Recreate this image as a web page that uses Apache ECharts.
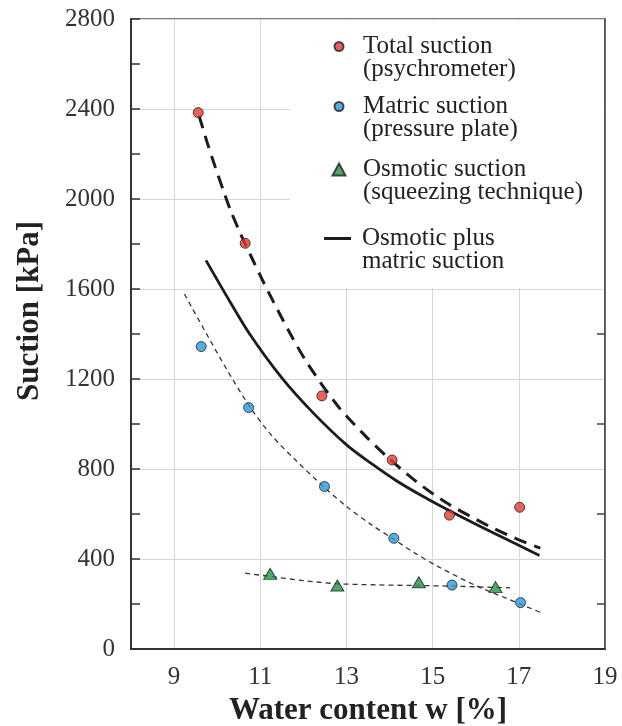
<!DOCTYPE html>
<html>
<head>
<meta charset="utf-8">
<script src="https://cdn.jsdelivr.net/npm/echarts@6/dist/echarts.min.js"></script>
<style>
  html, body { margin: 0; padding: 0; background: #ffffff; }
  #chart { width: 622px; height: 726px; }
</style>
</head>
<body>
<div id="chart"></div>
<script>
// Suction measurements against gravimetric water content
const xTickValues = [9, 11, 13, 15, 17, 19];
const rightTickValues = [200, 600, 1000, 1400];

// Total suction (psychrometer)
const totalW = [9.56, 10.65, 12.43, 14.06, 15.39, 17.02];
const totalS = [2384, 1803, 1125, 840, 595, 630];

// Matric suction (pressure plate)
const matricW = [9.63, 10.73, 12.49, 14.10, 15.45, 17.04];
const matricS = [1344, 1073, 722, 492, 284, 206];

// Osmotic suction (squeezing technique)
const osmoticW = [11.23, 12.79, 14.68, 16.46];
const osmoticS = [334, 282, 297, 275];

// Fitted curve through total suction
const totalFitW = [9.58, 9.77, 9.95, 10.14, 10.32, 10.55, 10.8, 11.05, 11.3, 11.7, 12.1, 12.8, 13.45, 13.9, 14.55, 15.3, 16.25, 17.0, 17.5];
const totalFitS = [2370, 2250, 2145, 2040, 1945, 1842, 1740, 1640, 1545, 1400, 1268, 1080, 945, 862, 755, 652, 552, 485, 448];

// Osmotic plus matric suction
const sumFitW = [9.74, 10.2, 10.75, 11.5, 12.25, 13.01, 13.55, 14.15, 14.76, 15.38, 16.38, 17.48];
const sumFitS = [1727, 1575, 1401, 1205, 1045, 906, 828, 749, 680, 616, 519, 416];

// Fitted curve through matric suction
const matricFitW = [9.24, 9.39, 9.79, 10.23, 10.77, 11.25, 11.8, 12.49, 13.01, 13.55, 14.08, 14.6, 15.14, 16.0, 16.78, 17.56];
const matricFitS = [1578, 1525, 1388, 1240, 1073, 952, 843, 718, 632, 556, 490, 425, 365, 282, 220, 158];

// Fitted curve through osmotic suction
const osmoticFitW = [10.65, 11.25, 12.0, 12.8, 13.7, 14.7, 15.5, 16.8];
const osmoticFitS = [337, 322, 304, 290, 285, 282, 279, 272];

const NAME_TOTAL = 'Total suction\n(psychrometer)';
const NAME_MATRIC = 'Matric suction\n(pressure plate)';
const NAME_OSMOTIC = 'Osmotic suction\n(squeezing technique)';
const NAME_SUM = 'Osmotic plus\nmatric suction';

const zip = (xs, ys) => xs.map((x, i) => [x, ys[i]]);

const SERIF = '"Liberation Serif", "DejaVu Serif", serif';

// Two-line legend entry: the icon sits level with the first line,
// the text block starts a fixed distance right of the icon.
function legendFor(name, top, left, icon, itemWidth, itemHeight, indent) {
  const lineStyle = { fontFamily: SERIF, fontSize: 25, lineHeight: 23, color: '#222' };
  return {
    data: [{ name: name, icon: icon }],
    left: left,
    top: top,
    padding: 0,
    itemWidth: itemWidth,
    itemHeight: itemHeight,
    selectedMode: false,
    formatter: function (n) {
      const lines = n.split('\n').map(function (l) { return '{s| }{t|' + l + '}'; });
      return ['{t| }'].concat(lines).join('\n');
    },
    textStyle: {
      fontFamily: SERIF,
      fontSize: 25,
      lineHeight: 23,
      color: '#222',
      rich: {
        t: lineStyle,
        s: { width: indent, fontSize: 25, lineHeight: 23 }
      }
    }
  };
}

const chart = echarts.init(document.getElementById('chart'), null, { renderer: 'canvas' });

chart.setOption({
  animation: false,
  backgroundColor: '#ffffff',
  grid: {
    left: 131,
    right: 17,
    top: 19,
    bottom: 77,
    outerBoundsMode: 'none',
    containLabel: false,
    show: true,
    borderColor: '#555',
    borderWidth: 1.5,
    backgroundColor: 'transparent'
  },
  legend: [
    legendFor(NAME_TOTAL, 11, 333.5, 'circle', 9, 9, 14.5),
    legendFor(NAME_MATRIC, 71, 333.5, 'circle', 9, 9, 14.5),
    legendFor(NAME_OSMOTIC, 134, 331.5, 'triangle', 13, 12, 12.5),
    legendFor(NAME_SUM, 203, 324, 'rect', 27, 3, 6)
  ],
  xAxis: {
    type: 'value',
    min: 8,
    max: 19,
    name: 'Water content w [%]',
    nameLocation: 'middle',
    nameGap: 46,
    nameTextStyle: { fontFamily: SERIF, fontSize: 31, fontWeight: 'bold', color: '#222' },
    axisLine: { lineStyle: { color: '#333', width: 2 } },
    axisTick: { show: false, customValues: xTickValues },
    axisLabel: { customValues: xTickValues, fontFamily: SERIF, fontSize: 25, color: '#333', margin: 16 },
    splitLine: { show: true, lineStyle: { color: '#d6d6d6', width: 1 } }
  },
  yAxis: [
    {
      type: 'value',
      min: 0,
      max: 2800,
      interval: 400,
      name: 'Suction [kPa]',
      nameLocation: 'middle',
      nameGap: 86,
      nameTextStyle: { fontFamily: SERIF, fontSize: 31, fontWeight: 'bold', color: '#222', padding: [0, 0, 0, 46] },
      axisLine: { show: true, lineStyle: { color: '#333', width: 2 } },
      axisTick: { show: true, inside: true, length: 9, lineStyle: { color: '#333', width: 1.5 } },
      minorTick: { show: true, splitNumber: 2, length: 9, lineStyle: { color: '#333', width: 1.5 } },
      axisLabel: {
        fontFamily: SERIF, fontSize: 25, color: '#333', margin: 16,
        formatter: function (v) { return String(v); }
      },
      splitLine: { show: true, lineStyle: { color: '#d6d6d6', width: 1 } }
    },
    {
      type: 'value',
      position: 'right',
      min: 0,
      max: 2800,
      interval: 400,
      axisLine: { show: true, lineStyle: { color: '#444', width: 1.5 } },
      axisTick: { show: true, inside: true, length: 8, customValues: rightTickValues, lineStyle: { color: '#444', width: 1.5 } },
      axisLabel: { show: false },
      splitLine: { show: false }
    }
  ],
  series: [
    {
      name: 'Total suction fit',
      type: 'line',
      data: zip(totalFitW, totalFitS),
      showSymbol: false,
      smooth: 0.3,
      silent: true,
      lineStyle: { color: '#1c1c1c', width: 3, type: [13, 8] },
      z: 2
    },
    {
      name: NAME_SUM,
      type: 'line',
      data: zip(sumFitW, sumFitS),
      showSymbol: false,
      symbol: 'none',
      smooth: 0.3,
      silent: true,
      lineStyle: { color: '#1c1c1c', width: 2.8 },
      itemStyle: { color: '#1c1c1c' },
      z: 2
    },
    {
      name: 'Matric suction fit',
      type: 'line',
      data: zip(matricFitW, matricFitS),
      showSymbol: false,
      smooth: 0.3,
      silent: true,
      lineStyle: { color: '#333', width: 1.3, type: [5, 4] },
      z: 2
    },
    {
      name: 'Osmotic suction fit',
      type: 'line',
      data: zip(osmoticFitW, osmoticFitS),
      showSymbol: false,
      smooth: 0.3,
      silent: true,
      lineStyle: { color: '#333', width: 1.3, type: [5, 4] },
      z: 2,
      // blank panel behind the legend
      markArea: {
        silent: true,
        itemStyle: { color: '#ffffff', opacity: 1 },
        data: [[{ coord: [11.69, 2792] }, { coord: [18.96, 1605] }]]
      }
    },
    {
      name: NAME_TOTAL,
      type: 'scatter',
      data: zip(totalW, totalS),
      symbol: 'circle',
      symbolSize: 10,
      itemStyle: { color: '#e23b34', borderColor: '#222', borderWidth: 1 },
      z: 4
    },
    {
      name: NAME_MATRIC,
      type: 'scatter',
      data: zip(matricW, matricS),
      symbol: 'circle',
      symbolSize: 10,
      itemStyle: { color: '#2a9bd6', borderColor: '#222', borderWidth: 1 },
      z: 4
    },
    {
      name: NAME_OSMOTIC,
      type: 'scatter',
      data: zip(osmoticW, osmoticS),
      symbol: 'triangle',
      symbolSize: [13, 11],
      itemStyle: { color: '#239445', borderColor: '#222', borderWidth: 1 },
      z: 4
    }
  ]
});
</script>
</body>
</html>
